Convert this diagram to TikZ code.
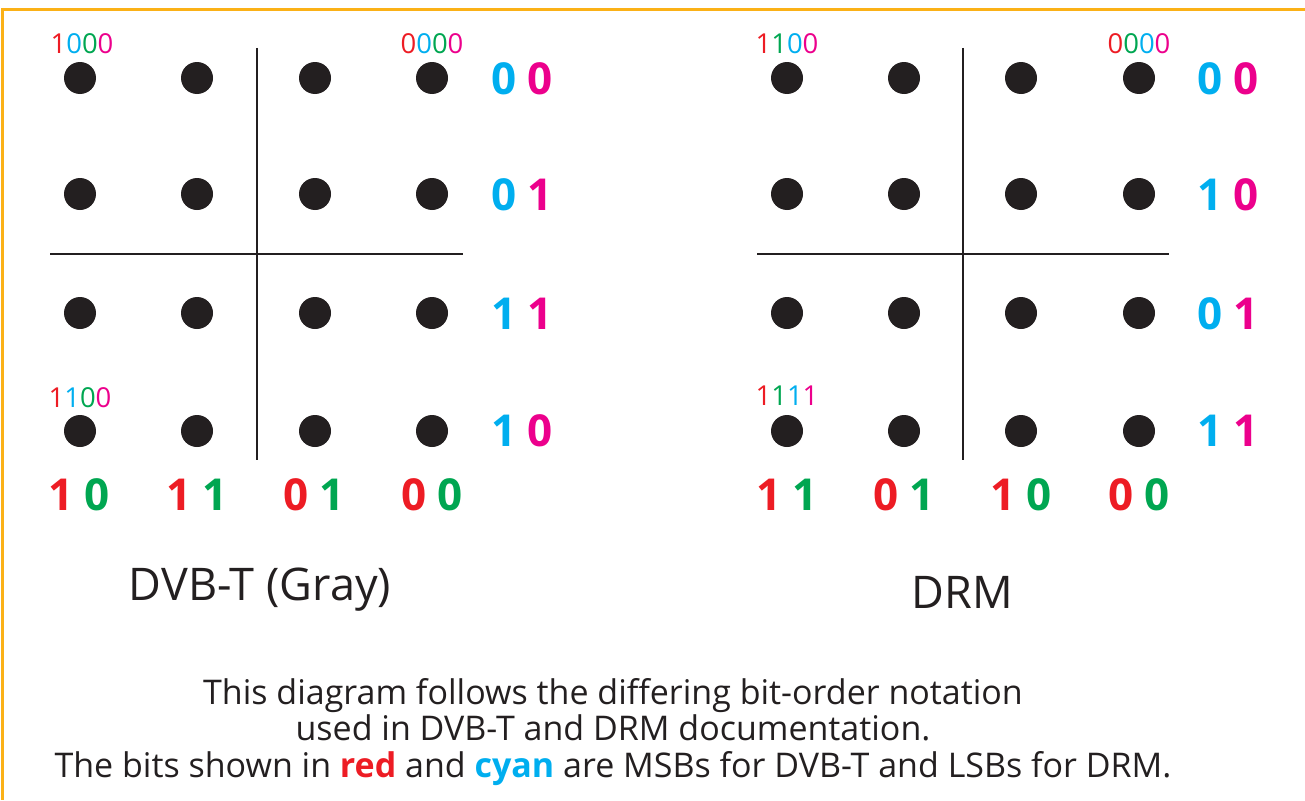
\documentclass[tikz,border=0pt]{standalone}
\usepackage{fontspec}
\setmainfont{Open Sans}
\definecolor{cred}{HTML}{ED1C24}
\definecolor{ccyan}{HTML}{00AEEF}
\definecolor{cgreen}{HTML}{00A651}
\definecolor{cmag}{HTML}{EC008C}
\definecolor{corange}{HTML}{FBB117}
\definecolor{cdot}{HTML}{231F20}
\newcommand{\R}[1]{{\color{cred}#1}}
\newcommand{\C}[1]{{\color{ccyan}#1}}
\newcommand{\G}[1]{{\color{cgreen}#1}}
\newcommand{\M}[1]{{\color{cmag}#1}}
\begin{document}
\begin{tikzpicture}[x=1pt,y=-1pt,
  dot/.style={circle,fill=cdot,draw=none,minimum size=32pt,inner sep=0pt},
  axis/.style={draw=cdot,line width=1.6pt},
  big/.style={font=\fontsize{44}{44}\selectfont\bfseries,inner sep=0pt,anchor=center},
  small/.style={font=\fontsize{27.5}{27.5}\selectfont,inner sep=0pt,anchor=center},
  title/.style={font=\fontsize{45}{45}\selectfont,text=cdot,inner sep=0pt,anchor=center},
  note/.style={font=\fontsize{34}{36.5}\selectfont,text=cdot,inner sep=0pt,align=center,anchor=center},
  frame/.style={draw=corange}]
\useasboundingbox (0,0) rectangle (1305,800);
% frame
\draw[frame,line width=3pt] (1.5,9.5) -- (1305,9.5);
\draw[frame,line width=2.5pt] (2.5,8) -- (2.5,800);
% left constellation dots
\foreach \i/\x in {1/80,2/197,3/315,4/432}{
  \foreach \j/\y in {1/78,2/194,3/313,4/431}{
    \node[dot] (L\i\j) at (\x,\y) {};
  }
}
\coordinate (LVt) at (257,48); \coordinate (LVb) at (257,460);
\coordinate (LHl) at (50,254); \coordinate (LHr) at (463,254);
\draw[axis] (LVt) -- (LVb);
\draw[axis] (LHl) -- (LHr);
% right constellation dots
\foreach \i/\x in {1/787,2/904,3/1021,4/1139}{
  \foreach \j/\y in {1/78,2/194,3/313,4/431}{
    \node[dot] (D\i\j) at (\x,\y) {};
  }
}
\coordinate (RVt) at (963,48); \coordinate (RVb) at (963,460);
\coordinate (RHl) at (757,254); \coordinate (RHr) at (1169,254);
\draw[axis] (RVt) -- (RVb);
\draw[axis] (RHl) -- (RHr);
% small labels
\node[small] (sl1) at (82,44) {\R{1}\C{0}\G{0}\M{0}};
\node[small] (sl2) at (432,44) {\R{0}\C{0}\G{0}\M{0}};
\node[small] (sl3) at (80,398) {\R{1}\C{1}\G{0}\M{0}};
\node[small] (sr1) at (787,44) {\R{1}\G{1}\C{0}\M{0}};
\node[small] (sr2) at (1139,44) {\R{0}\G{0}\C{0}\M{0}};
\node[small] (sr3) at (787,396) {\R{1}\G{1}\C{1}\M{1}};
% row labels left
\node[big] (lr1) at (522,79) {\C{0} \M{0}};
\node[big] (lr2) at (522,195) {\C{0} \M{1}};
\node[big] (lr3) at (522,314) {\C{1} \M{1}};
\node[big] (lr4) at (522,431) {\C{1} \M{0}};
% row labels right
\node[big] (rr1) at (1228,79) {\C{0} \M{0}};
\node[big] (rr2) at (1228,195) {\C{1} \M{0}};
\node[big] (rr3) at (1228,314) {\C{0} \M{1}};
\node[big] (rr4) at (1228,431) {\C{1} \M{1}};
% column labels left
\node[big] (lc1) at (79,495) {\R{1} \G{0}};
\node[big] (lc2) at (197,495) {\R{1} \G{1}};
\node[big] (lc3) at (314,495) {\R{0} \G{1}};
\node[big] (lc4) at (432,495) {\R{0} \G{0}};
% column labels right
\node[big] (rc1) at (787,495) {\R{1} \G{1}};
\node[big] (rc2) at (904,495) {\R{0} \G{1}};
\node[big] (rc3) at (1021,495) {\R{1} \G{0}};
\node[big] (rc4) at (1139,495) {\R{0} \G{0}};
% titles
\node[title] (t1) at (260,590) {DVB-T (Gray)};
\node[title] (t2) at (962,592) {DRM};
% note
\node[note] (n1) at (613,732) {This diagram follows the differing bit-order notation\\
used in DVB-T and DRM documentation.\\
The bits shown in \textbf{\R{red}} and \textbf{\C{cyan}} are MSBs for DVB-T and LSBs for DRM.};
\end{tikzpicture}
\end{document}
